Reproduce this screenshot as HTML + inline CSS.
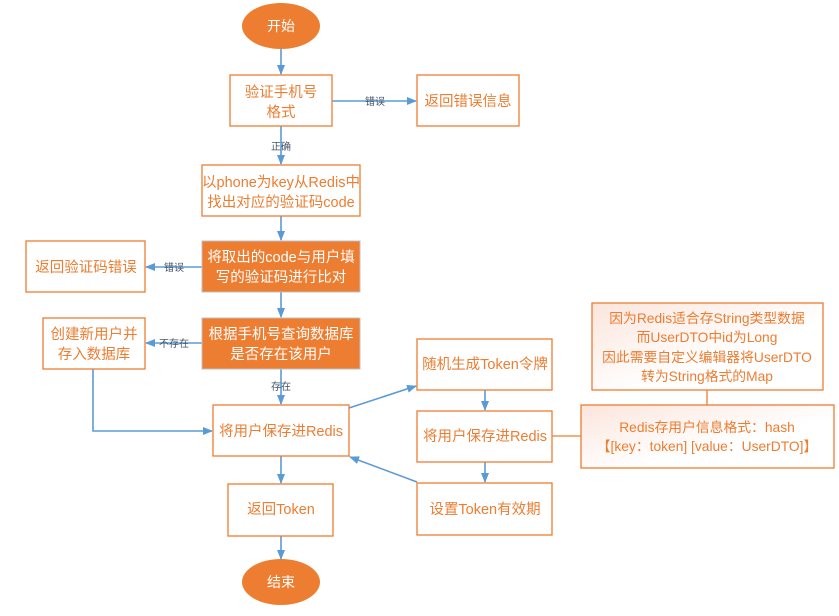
<!DOCTYPE html>
<html><head><meta charset="utf-8"><style>
html,body{margin:0;padding:0;background:#fff}
svg text{font-family:"Liberation Sans","Noto Sans CJK SC",sans-serif}
</style></head><body>
<svg width="839" height="611" viewBox="0 0 839 611" xmlns="http://www.w3.org/2000/svg">
<defs>
<marker id="a" markerWidth="10" markerHeight="10" refX="9" refY="5" orient="auto" markerUnits="userSpaceOnUse"><path d="M0,1 L10,5 L0,9 z" fill="#5b9bd5"/></marker>
<linearGradient id="g" x1="0" y1="0" x2="1" y2="1"><stop offset="0" stop-color="#fbe5dc"/><stop offset="0.6" stop-color="#fff"/></linearGradient>
</defs>
<g stroke="#5b9bd5" stroke-width="1.6" fill="none" marker-end="url(#a)">
<line x1="281" y1="49" x2="281" y2="74"/>
<line x1="332" y1="101" x2="416" y2="101"/>
<line x1="281" y1="126" x2="281" y2="164"/>
<line x1="281" y1="216" x2="281" y2="240"/>
<line x1="202" y1="267" x2="146" y2="267"/>
<line x1="281" y1="292" x2="281" y2="317"/>
<line x1="202" y1="343" x2="146" y2="343"/>
<line x1="281" y1="369" x2="281" y2="404"/>
<polyline points="93,369 93,431 212,431"/>
<line x1="281" y1="456" x2="281" y2="483"/>
<line x1="281" y1="536" x2="281" y2="559"/>
<line x1="349" y1="408" x2="416" y2="386"/>
<line x1="485" y1="390" x2="485" y2="410"/>
<line x1="485" y1="462" x2="485" y2="482"/>
<line x1="417" y1="482" x2="350" y2="457"/>
</g>
<g stroke="#ed7d31" stroke-width="1.3">
<line x1="552" y1="436" x2="581" y2="436"/>
<line x1="707" y1="390" x2="707" y2="405"/>
</g>
<g font-size="10" fill="#44546a" text-anchor="middle">
<text x="375" y="105">错误</text>
<text x="281" y="150">正确</text>
<text x="174" y="271">错误</text>
<text x="174" y="347">不存在</text>
<text x="281" y="390">存在</text>
</g>
<ellipse cx="281" cy="26" rx="39" ry="23" fill="#ed7d31"/>
<ellipse cx="281" cy="582" rx="39" ry="23" fill="#ed7d31"/>
<g font-size="14" fill="#fff" text-anchor="middle">
<text x="281" y="31">开始</text>
<text x="281" y="587">结束</text>
</g>
<g fill="#fff" stroke="#ed7d31" stroke-width="1.3">
<rect x="230" y="75" width="102" height="51"/>
<rect x="417" y="75" width="102" height="51"/>
<rect x="202" y="165" width="158" height="51"/>
<rect x="26" y="241" width="119" height="51"/>
<rect x="43" y="318" width="102" height="51"/>
<rect x="213" y="405" width="136" height="51"/>
<rect x="228" y="484" width="105" height="52"/>
<rect x="417" y="339" width="135" height="51"/>
<rect x="417" y="411" width="135" height="51"/>
<rect x="417" y="483" width="135" height="52"/>
<rect x="592" y="303" width="231" height="87" fill="url(#g)"/>
<rect x="581" y="405" width="253" height="63" fill="url(#g)"/>
</g>
<g fill="#ed7d31" stroke="#c0c0c0" stroke-width="1">
<rect x="202" y="241" width="158" height="51"/>
<rect x="202" y="318" width="158" height="51"/>
</g>
<g font-size="14.5" fill="#ed7d31" text-anchor="middle">
<text x="281" y="97">验证手机号</text><text x="281" y="117">格式</text>
<text x="468" y="106">返回错误信息</text>
<text x="281" y="187">以phone为key从Redis中</text><text x="281" y="207">找出对应的验证码code</text>
<text x="86" y="272">返回验证码错误</text>
<text x="94" y="339">创建新用户并</text><text x="94" y="359">存入数据库</text>
<text x="281" y="436">将用户保存进Redis</text>
<text x="281" y="514">返回Token</text>
<text x="485" y="369">随机生成Token令牌</text>
<text x="485" y="441">将用户保存进Redis</text>
<text x="485" y="514">设置Token有效期</text>
</g>
<g font-size="13.8" fill="#ed7d31" text-anchor="middle">
<text x="707" y="323">因为Redis适合存String类型数据</text>
<text x="707" y="342">而UserDTO中id为Long</text>
<text x="707" y="362">因此需要自定义编辑器将UserDTO</text>
<text x="707" y="381">转为String格式的Map</text>
<text x="707" y="432">Redis存用户信息格式：hash</text>
<text x="707" y="451">【[key：token] [value：UserDTO]】</text>
</g>
<g font-size="14.5" fill="#fff" text-anchor="middle">
<text x="281" y="262">将取出的code与用户填</text><text x="281" y="282">写的验证码进行比对</text>
<text x="281" y="339">根据手机号查询数据库</text><text x="281" y="359">是否存在该用户</text>
</g>
</svg>
</body></html>
